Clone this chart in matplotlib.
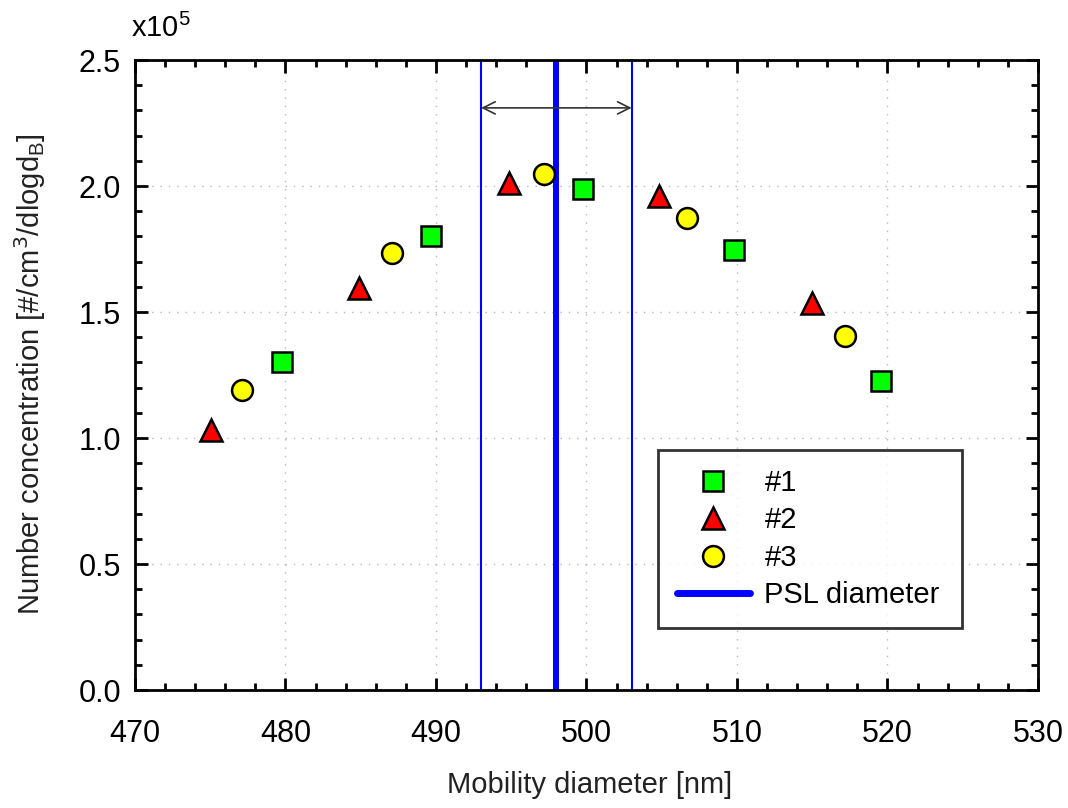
import matplotlib
matplotlib.use("Agg")
import matplotlib.pyplot as plt
from matplotlib.ticker import MultipleLocator, FuncFormatter

plt.rcParams['font.family'] = ['Liberation Sans', 'DejaVu Sans']

# Measured size distributions for three runs (concentration in units of 1e5)
d1 = [479.8, 489.7, 499.8, 509.8, 519.6]
n1 = [1.30, 1.80, 1.99, 1.746, 1.226]
d2 = [475.05, 484.9, 494.85, 504.8, 515.0]
n2 = [1.03, 1.595, 2.01, 1.96, 1.535]
d3 = [477.1, 487.1, 497.2, 506.7, 517.2]
n3 = [1.19, 1.734, 2.048, 1.873, 1.405]

psl_diameter = 498.0
psl_range = [493.0, 503.0]
arrow_level = 2.31

W, H = 1068, 808
fig = plt.figure(figsize=(W / 100, H / 100), dpi=100)
ax = fig.add_axes([135 / W, 1 - 690 / H, (1038 - 135) / W, (690 - 60) / H])

ax.set_xlim(470, 530)
ax.set_ylim(0, 2.5)
ax.xaxis.set_major_locator(MultipleLocator(10))
ax.xaxis.set_minor_locator(MultipleLocator(2))
ax.yaxis.set_major_locator(MultipleLocator(0.5))
ax.yaxis.set_minor_locator(MultipleLocator(0.1))
ax.yaxis.set_major_formatter(FuncFormatter(lambda v, p: f"{v:.1f}"))

ax.tick_params(which='both', direction='in', top=True, right=True, width=2)
ax.tick_params(which='major', length=9, labelsize=22)
ax.tick_params(axis='x', which='major', pad=21)
ax.tick_params(axis='y', which='major', pad=10)
ax.tick_params(which='minor', length=5)
for s in ax.spines.values():
    s.set_linewidth(2)

ax.grid(True, which='major', linestyle=(0, (1, 5)), color='#b8b8b8', linewidth=1)
ax.set_axisbelow(True)

# PSL nominal diameter and its tolerance band
ax.axvline(psl_diameter, color='#0000ff', linewidth=4.3, zorder=2)
for x in psl_range:
    ax.axvline(x, color='#0000ff', linewidth=1.5, zorder=2)
ax.annotate('', xy=(psl_range[0], arrow_level), xytext=(psl_range[1], arrow_level),
            arrowprops=dict(arrowstyle='<->', color='#333333', lw=1.2,
                            shrinkA=0, shrinkB=0, mutation_scale=22))

ax.plot(d1, n1, linestyle='none', marker='s', markersize=14, markerfacecolor='#00ff00',
        markeredgecolor='black', markeredgewidth=1.8, label='#1', zorder=3)
ax.plot(d2, n2, linestyle='none', marker='^', markersize=16, markerfacecolor='#ff0000',
        markeredgecolor='black', markeredgewidth=1.8, label='#2', zorder=3)
ax.plot(d3, n3, linestyle='none', marker='o', markersize=15, markerfacecolor='#ffff00',
        markeredgecolor='black', markeredgewidth=1.8, label='#3', zorder=3)
ax.plot([], [], color='#0000ff', linewidth=5, solid_capstyle='round', label='PSL diameter')

leg = ax.legend(loc='lower left', bbox_to_anchor=((658 - 135) / 903, (690 - 628) / 630,
                                                   (962 - 658) / 903, (628 - 444) / 630),
                mode='expand', fontsize=21, frameon=True, fancybox=False, borderpad=0.65,
                handlelength=2.5, handletextpad=0.5, labelspacing=0.32, borderaxespad=0)
leg.get_frame().set_edgecolor('black')
leg.get_frame().set_linewidth(2)

fig.text(590 / W, 1 - 785 / H, 'Mobility diameter [nm]', fontsize=21, color='#222222',
         ha='center', va='center')
fig.text(30 / W, 1 - 374 / H, 'Number concentration [#/cm$^3$/dlogd$_\\mathregular{B}$]',
         fontsize=21, color='#222222', rotation=90, ha='center', va='center')
ax.text(-0.004, 1.0365, 'x10$^\\mathregular{5}$', transform=ax.transAxes, fontsize=21,
        ha='left', va='baseline')

fig.savefig('out.png', dpi=100)
